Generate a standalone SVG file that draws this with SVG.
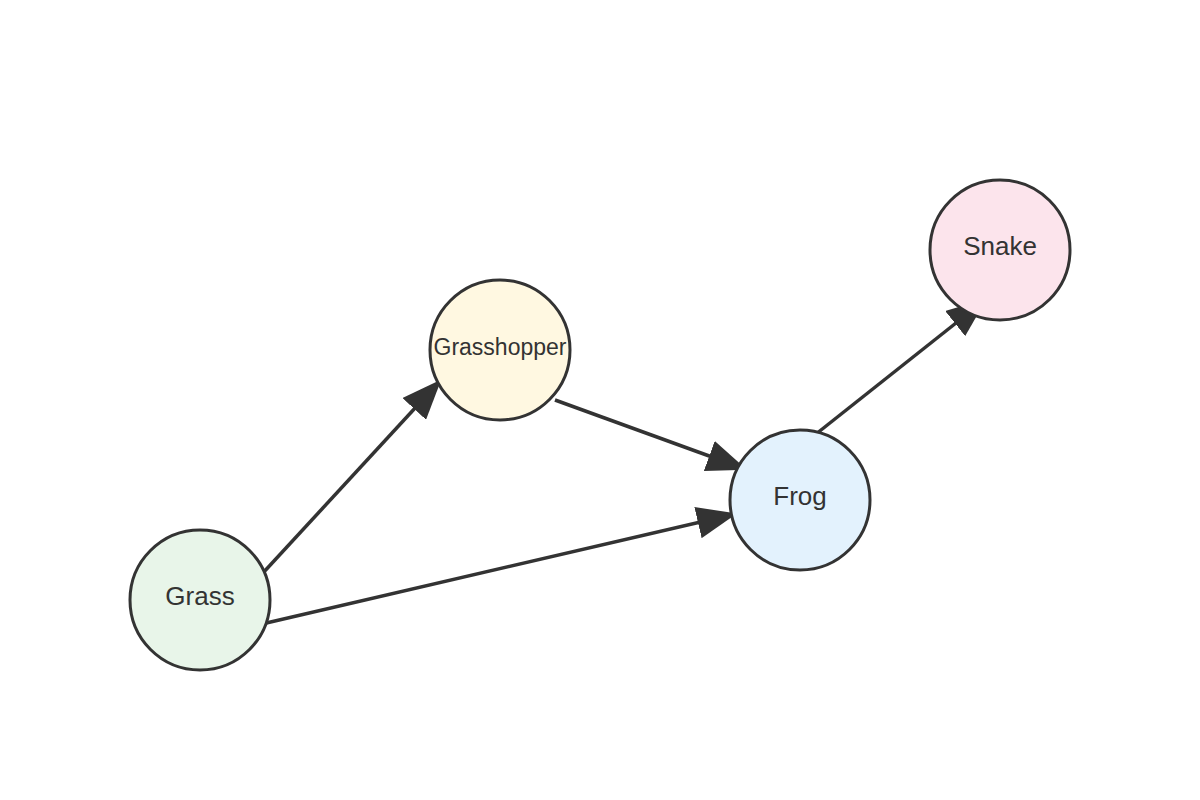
<svg xmlns="http://www.w3.org/2000/svg" width="1200" height="800" viewBox="0 0 1200 800">
<style>
.n{stroke:#333;stroke-width:3}
.t{font-family:"Liberation Sans",Arial,sans-serif;font-size:26px;fill:#333;text-anchor:middle;dominant-baseline:central}
.e{stroke:#333;stroke-width:3.5;fill:none;marker-end:url(#a)}
</style>
<defs><marker id="a" markerUnits="userSpaceOnUse" markerWidth="40" markerHeight="32" refX="38" refY="16" orient="auto"><path d="M0,0 L40,16 L0,32 z" fill="#333"/></marker></defs>
<rect width="1200" height="800" fill="#fff"/>
<g id="edges">
<line class="e" x1="262" y1="574" x2="440" y2="381"/>
<line class="e" x1="262" y1="624" x2="735" y2="514"/>
<line class="e" x1="555" y1="400" x2="745" y2="469"/>
<line class="e" x1="816" y1="434" x2="985" y2="300"/>
</g>
<g id="grass"><circle class="n" cx="200" cy="600" r="70" fill="#e8f5e9"/><text class="t" x="200" y="596">Grass</text></g>
<g id="grasshopper"><circle class="n" cx="500" cy="350" r="70" fill="#fff8e1"/><text class="t" x="500" y="347" style="font-size:23px">Grasshopper</text></g>
<g id="frog"><circle class="n" cx="800" cy="500" r="70" fill="#e3f2fd"/><text class="t" x="800" y="496">Frog</text></g>
<g id="snake"><circle class="n" cx="1000" cy="250" r="70" fill="#fce4ec"/><text class="t" x="1000" y="246">Snake</text></g>
</svg>
